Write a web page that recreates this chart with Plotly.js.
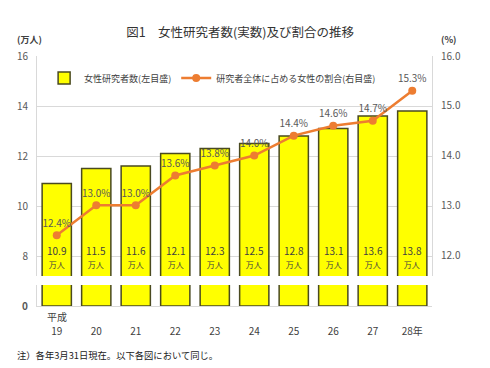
<!DOCTYPE html>
<html>
<head>
<meta charset="utf-8">
<script src="https://cdn.plot.ly/plotly-3.0.1.min.js"></script>
<style>html,body{margin:0;padding:0;background:#fff;}#chart{width:490px;height:368px;}</style>
</head>
<body>
<div id="chart"></div>
<script>
const years = ["19", "20", "21", "22", "23", "24", "25", "26", "27", "28年"];
const researchers = [10.9, 11.5, 11.6, 12.1, 12.3, 12.5, 12.8, 13.1, 13.6, 13.8];
const ratio = [12.4, 13.0, 13.0, 13.6, 13.8, 14.0, 14.4, 14.6, 14.7, 15.3];
const leftTicks = [8, 10, 12, 14, 16];
const rightTicks = [12, 13, 14, 15, 16];

const FONT = '"Noto Sans CJK JP", "Noto Sans", sans-serif';
const TXT = '#404040';
const barStyle = {color: '#FFFF00', line: {color: '#4A4A20', width: 1.5}};

const traces = [
  {type: 'bar', x: years, y: researchers, xaxis: 'x', yaxis: 'y2', marker: barStyle,
   showlegend: false, hoverinfo: 'skip'},
  {type: 'bar', x: years, y: researchers, xaxis: 'x2', yaxis: 'y', marker: barStyle,
   name: '女性研究者数(左目盛)', hoverinfo: 'skip'},
  {type: 'scatter', mode: 'lines+markers+text', x: years, y: ratio, xaxis: 'x2', yaxis: 'y3',
   name: '研究者全体に占める女性の割合(右目盛)',
   line: {color: '#ED7D31', width: 2.5}, marker: {color: '#ED7D31', size: 8},
   text: ratio.map(v => v.toFixed(1) + '%'), textposition: 'top center',
   textfont: {size: 10, color: '#595959', family: FONT}, hoverinfo: 'skip', cliponaxis: false}
];

const annotations = [];
years.forEach((yr, i) => {
  annotations.push({
    xref: 'x2', yref: 'y', x: i, y: 7.2, yanchor: 'bottom', yshift: 4, showarrow: false,
    text: researchers[i].toFixed(1) + '<br><span style="font-size:8px">万人</span>',
    font: {size: 10, color: TXT, family: FONT}, align: 'center'
  });
});
annotations.push({xref: 'x', yref: 'paper', x: 0, y: 0, yanchor: 'top', yshift: -1,
  showarrow: false, text: '平成', font: {size: 10, color: TXT, family: FONT}});
annotations.push({xref: 'paper', yref: 'paper', x: -0.018, y: 1.03, xanchor: 'center', yanchor: 'bottom',
  showarrow: false, text: '<b>(万人)</b>', font: {size: 9, color: TXT, family: FONT}});
annotations.push({xref: 'paper', yref: 'paper', x: 1.043, y: 1.03, xanchor: 'center', yanchor: 'bottom',
  showarrow: false, text: '<b>(%)</b>', font: {size: 9, color: TXT, family: FONT}});
annotations.push({xref: 'paper', yref: 'paper', x: -0.055, y: -0.16, xanchor: 'left', yanchor: 'top',
  showarrow: false, text: '注）各年3月31日現在。以下各図において同じ。', font: {size: 9.3, color: '#222', family: FONT}});

const gridC = '#D9D9D9';
const layout = {
  width: 490, height: 368,
  margin: {l: 37, r: 58, t: 56, b: 62},
  paper_bgcolor: '#fff', plot_bgcolor: '#fff',
  font: {family: FONT, size: 10, color: '#595959'},
  title: {text: '図1　女性研究者数(実数)及び割合の推移', x: 0.49, xanchor: 'center', y: 0.91, yanchor: 'middle',
          font: {size: 12.5, color: '#333', family: FONT}},
  bargap: 0.26,
  showlegend: true,
  legend: {orientation: 'h', x: 0.018, y: 0.97, xanchor: 'left', yanchor: 'top', bgcolor: 'rgba(0,0,0,0)',
           font: {size: 9, color: TXT, family: FONT}, traceorder: 'normal'},
  xaxis: {domain: [0, 1], anchor: 'y2', range: [-0.5, 9.5], type: 'category',
          showline: true, linecolor: gridC, linewidth: 1, ticks: '', ticklabelstandoff: 16,
          tickfont: {size: 10, color: TXT, family: FONT}, showgrid: false, zeroline: false},
  xaxis2: {domain: [0, 1], anchor: 'y', matches: 'x', showticklabels: false, showline: false,
           showgrid: false, zeroline: false, type: 'category'},
  yaxis: {domain: [0.12, 1], anchor: 'x2', range: [7.2, 16], tickvals: leftTicks,
          showgrid: true, gridcolor: gridC, showline: true, linecolor: gridC, zeroline: false,
          ticks: '', ticklabelstandoff: 6, tickfont: {size: 10, color: '#595959'}},
  yaxis2: {domain: [0, 0.084], anchor: 'x', range: [0, 1.5], tickvals: [0], ticktext: ['<b>0</b>'],
           showgrid: false, showline: true, linecolor: gridC, zeroline: false, ticks: '', ticklabelstandoff: 6,
           tickfont: {size: 10, color: '#595959'}},
  yaxis3: {overlaying: 'y', side: 'right', anchor: 'x2', range: [11.58, 16], tickvals: rightTicks,
           tickformat: '.1f', showgrid: false, showline: true, linecolor: gridC, zeroline: false,
           ticks: '', ticklabelstandoff: 6, tickfont: {size: 10, color: '#595959'}},
  yaxis4: {overlaying: 'y2', side: 'right', anchor: 'x', range: [0, 1.5], tickvals: [0], ticktext: ['<b>0.0</b>'],
           showgrid: false, showline: true, linecolor: gridC, zeroline: false, ticks: '', ticklabelstandoff: 6,
           tickfont: {size: 10, color: '#595959'}},
  annotations: annotations
};

Plotly.newPlot('chart', traces, layout, {displayModeBar: false, staticPlot: true});
</script>
</body>
</html>
